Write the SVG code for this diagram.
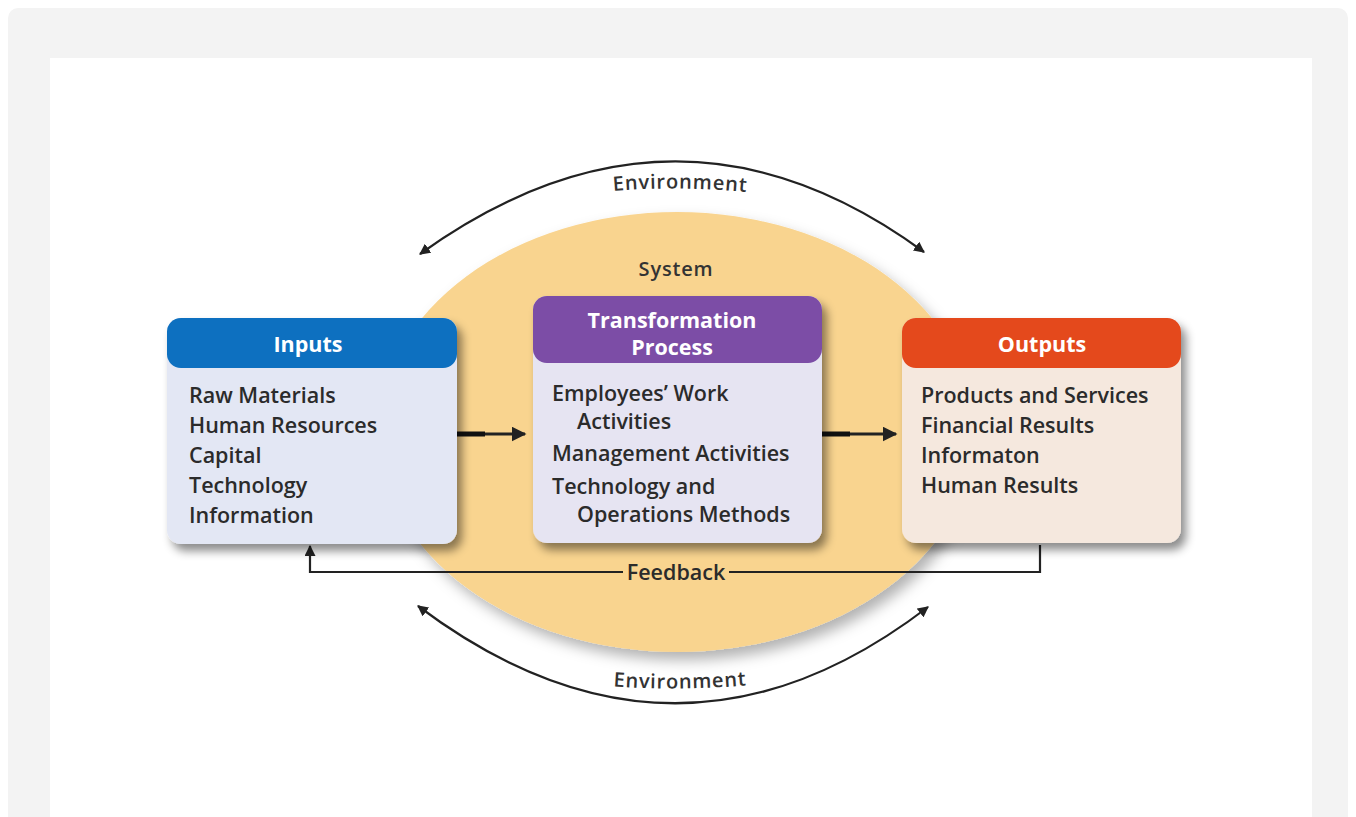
<svg xmlns="http://www.w3.org/2000/svg" width="1356" height="817" viewBox="0 0 1356 817">
<defs>
<style>
.body{font-family:"Open Sans","Noto Sans",sans-serif;font-size:21.5px;font-weight:600;fill:#2b2b2b}
.hdr{font-family:"Open Sans","Noto Sans",sans-serif;font-size:21.5px;font-weight:700;fill:#ffffff;text-anchor:middle}
.lbl{font-family:"Open Sans","Noto Sans",sans-serif;font-size:20px;font-weight:600;fill:#333;text-anchor:middle;letter-spacing:0.8px}
.conn{fill:none;stroke:#222;stroke-width:2.2}
</style>
<filter id="sh" x="-10%" y="-10%" width="130%" height="140%">
<feDropShadow dx="5" dy="7" stdDeviation="5" flood-color="#000" flood-opacity="0.45"/>
</filter>
<filter id="esh" x="-10%" y="-10%" width="130%" height="130%">
<feDropShadow dx="6" dy="8" stdDeviation="7" flood-color="#000" flood-opacity="0.3"/>
</filter>
<marker id="ah" viewBox="0 0 10 10" refX="9" refY="5" markerWidth="5" markerHeight="5" orient="auto-start-reverse">
<path d="M0,0 L10,5 L0,10 z" fill="#222"/>
</marker>
<path id="topArc" d="M540,201 Q678,175 820,203"/>
<path id="botArc" d="M540,678 Q676,700 820,676"/>
</defs>
<rect x="0" y="0" width="1356" height="817" fill="#ffffff"/>
<rect x="8" y="8" width="1340" height="840" rx="10" fill="#f3f3f3"/>
<rect x="50" y="58" width="1262" height="800" fill="#ffffff"/>

<g id="system">
<ellipse cx="677" cy="432" rx="298" ry="220" fill="#f9d48f" filter="url(#esh)"/>
<text class="lbl" x="676" y="276">System</text>
</g>

<g id="connectors">
<path class="conn" d="M420,254 Q676,70 924,252" marker-start="url(#ah)" marker-end="url(#ah)"/>
<path class="conn" d="M418,606 Q676,800 928,607" marker-start="url(#ah)" marker-end="url(#ah)"/>
<path d="M457,434 L525,434" stroke="#222" stroke-width="3" marker-end="url(#ah)"/>
<path d="M457,434 L485,434" stroke="#111" stroke-width="5"/>
<path d="M822,434 L896,434" stroke="#222" stroke-width="3" marker-end="url(#ah)"/>
<path d="M822,434 L850,434" stroke="#111" stroke-width="5"/>
<path class="conn" d="M1040,545 L1040,572 L729,572"/>
<path class="conn" d="M623,572 L310,572 L310,546" marker-end="url(#ah)"/>
</g>

<g id="env-top"><text class="lbl"><textPath href="#topArc" startOffset="50%">Environment</textPath></text></g>
<g id="env-bottom"><text class="lbl"><textPath href="#botArc" startOffset="50%">Environment</textPath></text></g>
<g id="feedback"><text class="body" x="676" y="580" text-anchor="middle">Feedback</text></g>

<g id="inputs" filter="url(#sh)">
<rect x="167" y="318" width="290" height="226" rx="14" fill="#e3e7f4"/>
<path d="M167,332 a14,14 0 0 1 14,-14 h262 a14,14 0 0 1 14,14 v22 a14,14 0 0 1 -14,14 h-262 a14,14 0 0 1 -14,-14 z" fill="#0b6fc0"/>
</g>
<g id="inputs-text">
<text class="hdr" x="308" y="352">Inputs</text>
<text class="body" x="189" y="403">Raw Materials</text>
<text class="body" x="189" y="433">Human Resources</text>
<text class="body" x="189" y="463">Capital</text>
<text class="body" x="189" y="493">Technology</text>
<text class="body" x="189" y="523">Information</text>
</g>

<g id="transformation" filter="url(#sh)">
<rect x="533" y="296" width="289" height="247" rx="14" fill="#e6e4f2"/>
<path d="M533,310 a14,14 0 0 1 14,-14 h261 a14,14 0 0 1 14,14 v39 a14,14 0 0 1 -14,14 h-261 a14,14 0 0 1 -14,-14 z" fill="#7b4da6"/>
</g>
<g id="transformation-text">
<text class="hdr" x="672" y="328">Transformation</text>
<text class="hdr" x="672" y="355">Process</text>
<text class="body" x="552" y="401">Employees’ Work</text>
<text class="body" x="577" y="429">Activities</text>
<text class="body" x="552" y="461">Management Activities</text>
<text class="body" x="552" y="494">Technology and</text>
<text class="body" x="577" y="522">Operations Methods</text>
</g>

<g id="outputs" filter="url(#sh)">
<rect x="902" y="318" width="279" height="225" rx="14" fill="#f5e8de"/>
<path d="M902,332 a14,14 0 0 1 14,-14 h251 a14,14 0 0 1 14,14 v22 a14,14 0 0 1 -14,14 h-251 a14,14 0 0 1 -14,-14 z" fill="#e4481d"/>
</g>
<g id="outputs-text">
<text class="hdr" x="1042" y="352">Outputs</text>
<text class="body" x="921" y="403">Products and Services</text>
<text class="body" x="921" y="433">Financial Results</text>
<text class="body" x="921" y="463">Informaton</text>
<text class="body" x="921" y="493">Human Results</text>
</g>
</svg>
